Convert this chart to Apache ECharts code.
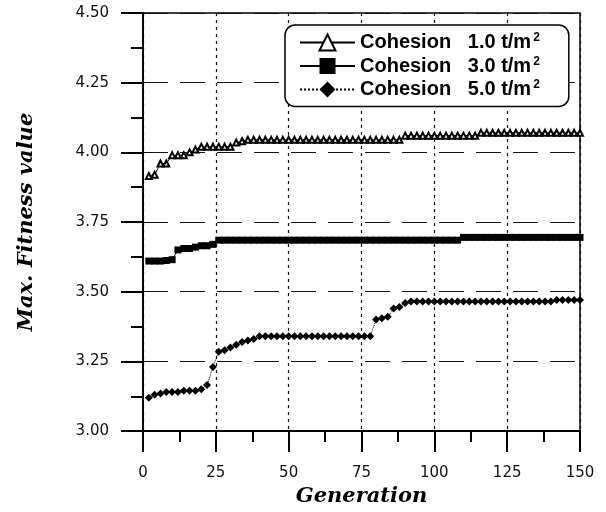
<!DOCTYPE html>
<html>
<head>
<meta charset="utf-8">
<script src="https://cdn.jsdelivr.net/npm/echarts@6/dist/echarts.min.js"></script>
<style>
  html, body { margin: 0; background: #fff; }
  #chart { width: 606px; height: 512px; }
</style>
</head>
<body>
<div id="chart"></div>
<script>
// 世代（每两代取一点）
const generations = [
  2, 4, 6, 8, 10, 12, 14, 16, 18, 20,
  22, 24, 26, 28, 30, 32, 34, 36, 38, 40,
  42, 44, 46, 48, 50, 52, 54, 56, 58, 60,
  62, 64, 66, 68, 70, 72, 74, 76, 78, 80,
  82, 84, 86, 88, 90, 92, 94, 96, 98, 100,
  102, 104, 106, 108, 110, 112, 114, 116, 118, 120,
  122, 124, 126, 128, 130, 132, 134, 136, 138, 140,
  142, 144, 146, 148, 150
];

// Cohesion 1.0 t/m2
const cohesion1 = [
  3.915, 3.92, 3.96, 3.96, 3.99, 3.99, 3.99, 4.00, 4.01, 4.02,
  4.02, 4.02, 4.02, 4.02, 4.02, 4.035, 4.04, 4.045, 4.045, 4.045,
  4.045, 4.045, 4.045, 4.045, 4.045, 4.045, 4.045, 4.045, 4.045, 4.045,
  4.045, 4.045, 4.045, 4.045, 4.045, 4.045, 4.045, 4.045, 4.045, 4.045,
  4.045, 4.045, 4.045, 4.045, 4.06, 4.06, 4.06, 4.06, 4.06, 4.06,
  4.06, 4.06, 4.06, 4.06, 4.06, 4.06, 4.06, 4.07, 4.07, 4.07,
  4.07, 4.07, 4.07, 4.07, 4.07, 4.07, 4.07, 4.07, 4.07, 4.07,
  4.07, 4.07, 4.07, 4.07, 4.07
];

// Cohesion 3.0 t/m2
const cohesion3 = [
  3.61, 3.61, 3.61, 3.612, 3.615, 3.65, 3.655, 3.655, 3.66, 3.665,
  3.665, 3.67, 3.685, 3.685, 3.685, 3.685, 3.685, 3.685, 3.685, 3.685,
  3.685, 3.685, 3.685, 3.685, 3.685, 3.685, 3.685, 3.685, 3.685, 3.685,
  3.685, 3.685, 3.685, 3.685, 3.685, 3.685, 3.685, 3.685, 3.685, 3.685,
  3.685, 3.685, 3.685, 3.685, 3.685, 3.685, 3.685, 3.685, 3.685, 3.685,
  3.685, 3.685, 3.685, 3.685, 3.695, 3.695, 3.695, 3.695, 3.695, 3.695,
  3.695, 3.695, 3.695, 3.695, 3.695, 3.695, 3.695, 3.695, 3.695, 3.695,
  3.695, 3.695, 3.695, 3.695, 3.695
];

// Cohesion 5.0 t/m2
const cohesion5 = [
  3.12, 3.13, 3.135, 3.14, 3.14, 3.14, 3.145, 3.145, 3.145, 3.15,
  3.165, 3.23, 3.285, 3.29, 3.30, 3.31, 3.32, 3.325, 3.33, 3.34,
  3.34, 3.34, 3.34, 3.34, 3.34, 3.34, 3.34, 3.34, 3.34, 3.34,
  3.34, 3.34, 3.34, 3.34, 3.34, 3.34, 3.34, 3.34, 3.34, 3.40,
  3.405, 3.41, 3.44, 3.445, 3.46, 3.465, 3.465, 3.465, 3.465, 3.465,
  3.465, 3.465, 3.465, 3.465, 3.465, 3.465, 3.465, 3.465, 3.465, 3.465,
  3.465, 3.465, 3.465, 3.465, 3.465, 3.465, 3.465, 3.465, 3.465, 3.465,
  3.47, 3.47, 3.47, 3.47, 3.47
];

const seriesNames = [
  'Cohesion   1.0 t/m',
  'Cohesion   3.0 t/m',
  'Cohesion   5.0 t/m'
];

const toPairs = values => generations.map((g, i) => [g, values[i]]);

const chart = echarts.init(document.getElementById('chart'));

const axisFont = { fontFamily: 'DejaVu Sans', fontSize: 15, color: '#111' };
const titleFont = {
  fontFamily: 'DejaVu Serif',
  fontStyle: 'italic',
  fontWeight: 'bold',
  fontSize: 21,
  color: '#000'
};

const option = {
  backgroundColor: '#fff',
  animation: false,
  grid: {
    left: 143, right: 26, top: 13, bottom: 80,
    show: true,
    borderColor: '#000',
    borderWidth: 1.5
  },
  legend: {
    orient: 'vertical',
    left: 285,
    top: 25,
    padding: [7, 29, 7, 14],
    itemWidth: 55,
    itemHeight: 20,
    itemGap: 3,
    backgroundColor: '#fff',
    borderColor: '#000',
    borderWidth: 1.5,
    borderRadius: 10,
    formatter: name => `{t|${name}}{s|2}`,
    textStyle: {
      rich: {
        t: { fontFamily: 'Liberation Sans', fontWeight: 'bold', fontSize: 20, color: '#000' },
        s: { fontFamily: 'Liberation Sans', fontWeight: 'bold', fontSize: 12, color: '#000', verticalAlign: 'top', padding: [0, 0, 9, 2] }
      }
    },
    data: seriesNames
  },
  xAxis: {
    type: 'value',
    min: 0,
    max: 150,
    interval: 25,
    name: 'Generation',
    nameLocation: 'middle',
    nameGap: 54,
    nameTextStyle: titleFont,
    axisLine: { lineStyle: { color: '#000', width: 2 } },
    axisTick: { length: 21, lineStyle: { color: '#000', width: 2 } },
    minorTick: { show: true, splitNumber: 2, length: 11, lineStyle: { color: '#000', width: 2 } },
    axisLabel: Object.assign({ margin: 35 }, axisFont),
    splitLine: { show: true, lineStyle: { color: '#111', width: 1.2, type: [3, 4] } }
  },
  yAxis: {
    type: 'value',
    min: 3,
    max: 4.5,
    interval: 0.25,
    name: 'Max. Fitness value',
    nameLocation: 'middle',
    nameGap: 106,
    nameTextStyle: titleFont,
    axisLine: { show: true, lineStyle: { color: '#000', width: 2 } },
    axisTick: { show: true, length: 22, lineStyle: { color: '#000', width: 2 } },
    minorTick: { show: true, splitNumber: 2, length: 12, lineStyle: { color: '#000', width: 2 } },
    axisLabel: Object.assign({ margin: 34, formatter: v => v.toFixed(2) }, axisFont),
    splitLine: { show: true, lineStyle: { color: '#111', width: 1.2, type: [25, 12] } }
  },
  series: [
    {
      name: seriesNames[0],
      type: 'line',
      data: toPairs(cohesion1),
      symbol: 'emptyTriangle',
      symbolSize: 6,
      itemStyle: { color: '#000', borderColor: '#000', borderWidth: 1 },
      lineStyle: { color: '#000', width: 1 }
    },
    {
      name: seriesNames[1],
      type: 'line',
      data: toPairs(cohesion3),
      symbol: 'rect',
      symbolSize: 7,
      itemStyle: { color: '#000' },
      lineStyle: { color: '#000', width: 1 }
    },
    {
      name: seriesNames[2],
      type: 'line',
      data: toPairs(cohesion5),
      symbol: 'diamond',
      symbolSize: 8,
      itemStyle: { color: '#000' },
      lineStyle: { color: '#000', width: 1, type: 'dotted' }
    }
  ]
};

chart.setOption(option);
</script>
</body>
</html>
